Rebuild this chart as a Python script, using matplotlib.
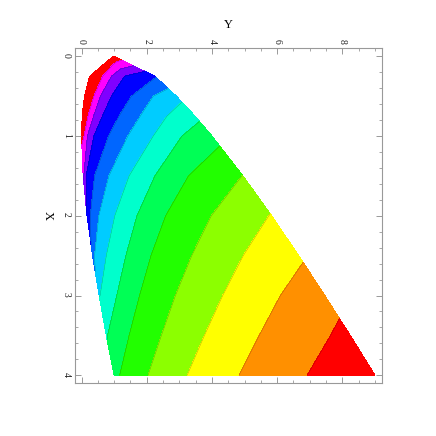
import numpy as np
import matplotlib
matplotlib.use("Agg")
from matplotlib import pyplot as plt
from matplotlib.ticker import MultipleLocator

# rows of constant X, with the edges of the filled region
x_rows = [0.0, 0.25, 0.5, 0.75, 1.0, 1.5, 2.0, 2.5, 3.0, 3.5, 4.0]
y_left = [0.97, 0.25, 0.09, 0.02, 0.00, 0.05, 0.17, 0.34, 0.54, 0.76, 1.00]
y_right = [1.00, 2.25, 2.91, 3.48, 4.00, 4.95, 5.83, 6.66, 7.46, 8.24, 9.00]
z_left = [0.0, 0.3, 0.45, 0.6, 0.75, 1.86, 3.1, 4.33, 5.97, 6.91, 7.75]
z_right = [0.3, 3.89, 5.68, 6.76, 7.66, 9.02, 10.05, 10.88, 11.59, 12.3, 12.8]

# Y where each contour level crosses each row (nan = level not on that row)
nan = np.nan
level_y = {
    1: [nan, 0.65, 0.38, 0.20, 0.08, nan, nan, nan, nan, nan, nan],
    2: [nan, 0.92, 0.58, 0.37, 0.18, 0.07, nan, nan, nan, nan, nan],
    3: [nan, 1.32, 0.92, 0.64, 0.38, 0.14, nan, nan, nan, nan, nan],
    4: [nan, nan, 1.53, 1.15, 0.83, 0.40, 0.27, nan, nan, nan, nan],
    5: [nan, nan, 2.20, 1.80, 1.42, 0.84, 0.53, 0.40, nan, nan, nan],
    6: [nan, nan, nan, 2.62, 2.20, 1.46, 1.02, 0.76, 0.57, nan, nan],
    7: [nan, nan, nan, nan, 3.08, 2.25, 1.70, 1.36, 1.08, 0.80, nan],
    8: [nan, nan, nan, nan, nan, 3.28, 2.58, 2.13, 1.78, 1.46, 1.17],
    9: [nan, nan, nan, nan, nan, nan, 3.98, 3.38, 2.88, 2.45, 2.04],
    10: [nan, nan, nan, nan, nan, nan, nan, 4.96, 4.33, 3.77, 3.24],
    11: [nan, nan, nan, nan, nan, nan, nan, nan, 6.10, 5.45, 4.83],
    12: [nan, nan, nan, nan, nan, nan, nan, nan, nan, 7.64, 6.92],
}

band_colors = ['#ff0000', '#ff00ff', '#8000ff', '#0000ff', '#0066ff', '#00ccff',
               '#00ffcc', '#00ff55', '#22ff00', '#8cff00', '#ffff00', '#ff9000',
               '#ff0000']

# grid whose columns follow constant level, so each contour runs straight
# from one row's crossing to the next
z_cols = np.linspace(0, 13, 53)
Xg, Yg, Zg = [], [], []
for i, xr in enumerate(x_rows):
    ky = [y_left[i]]
    kz = [z_left[i]]
    for lev in sorted(level_y):
        if not np.isnan(level_y[lev][i]):
            ky.append(level_y[lev][i])
            kz.append(lev)
    ky.append(y_right[i])
    kz.append(z_right[i])
    zz = np.clip(z_cols, z_left[i], z_right[i])
    Zg.append(zz)
    Yg.append(np.interp(zz, kz, ky))
    Xg.append(np.full(len(z_cols), xr))
Xg, Yg, Zg = np.array(Xg), np.array(Yg), np.array(Zg)

plt.rcParams['font.family'] = ['Liberation Serif', 'DejaVu Serif']

fig = plt.figure(figsize=(4.36, 4.36), dpi=100)
ax = fig.add_axes([0.172, 0.121, 0.703, 0.768])

levels = [-0.5] + list(range(1, 13)) + [13.5]
ax.contourf(Yg, Xg, Zg, levels=levels, colors=band_colors)
ax.contour(Yg, Xg, Zg, levels=list(range(1, 13)), colors='k', linewidths=0.3, alpha=0.35)

# the whole chart is turned a quarter turn: Y runs along the top, X down the left
ax.set_xlim(-0.2, 9.2)
ax.set_ylim(4.1, -0.1)
ax.xaxis.set_major_locator(MultipleLocator(2))
ax.xaxis.set_minor_locator(MultipleLocator(0.5))
ax.yaxis.set_major_locator(MultipleLocator(1))
ax.yaxis.set_minor_locator(MultipleLocator(0.2))

grey = '#999999'
for s in ax.spines.values():
    s.set_color(grey)
    s.set_linewidth(0.8)
ax.tick_params(which='both', direction='in', top=True, bottom=True, left=True, right=True,
               labeltop=True, labelbottom=False, labelleft=True, labelright=False,
               color=grey, labelsize=7, labelcolor='#222222')
ax.tick_params(which='major', length=4, width=0.7, pad=3)
ax.tick_params(which='minor', length=2.5, width=0.6)
ax.tick_params(axis='x', labelrotation=-90)
ax.tick_params(axis='y', labelrotation=-90)

ax.xaxis.set_label_position('top')
ax.set_xlabel('Y', fontsize=9, rotation=0, labelpad=8)
ax.set_ylabel('X', fontsize=9, rotation=-90, va='center', labelpad=10)

fig.savefig('out.png', dpi=100)
